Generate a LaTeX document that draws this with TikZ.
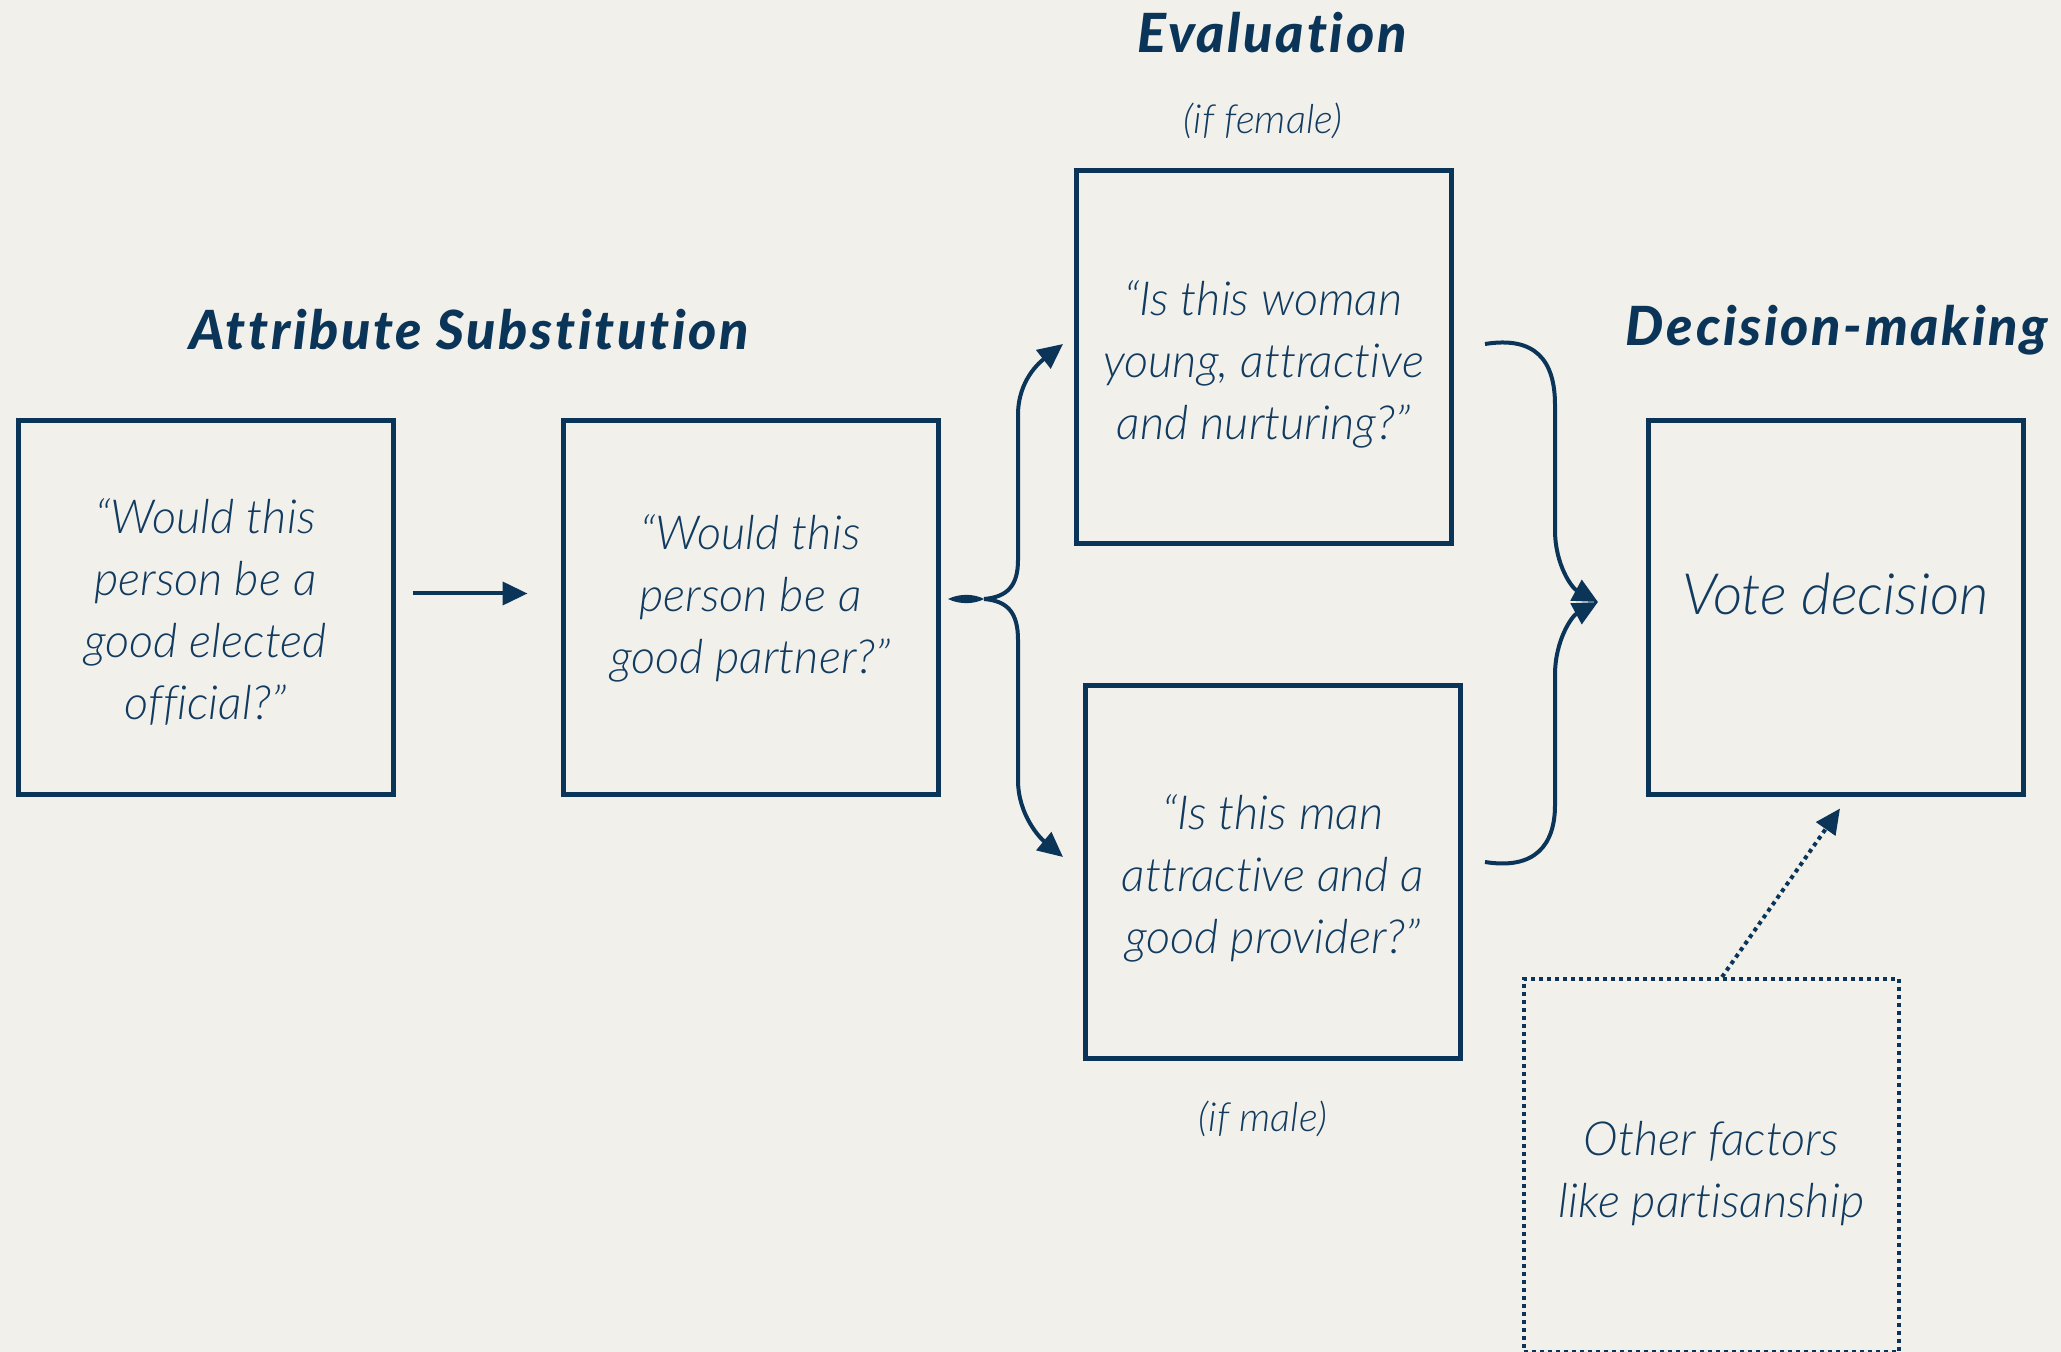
\documentclass[tikz,border=0pt]{standalone}
\usepackage{fontspec}
\setmainfont{Lato}
\newfontfamily\bodyfont{Lato Light}[Ligatures=NoCommon]
\newfontfamily\headfont{Lato Black}[LetterSpace=5,Ligatures=NoCommon]
\usetikzlibrary{arrows.meta}
\definecolor{navy}{HTML}{0B3558}
\definecolor{ink}{HTML}{123B60}
\definecolor{paper}{HTML}{F2F0EB}
\begin{document}
\begin{tikzpicture}[x=0.5pt,y=-0.5pt,
  box/.style={draw=navy, line width=2.5pt, minimum width=187.5pt, minimum height=186.5pt, inner sep=0pt},
  dotbox/.style={box, line width=2pt, dash pattern=on 2pt off 2pt},
  txt/.style={align=center, text=ink, inner sep=0pt, font=\bodyfont\itshape\fontsize{23.5}{31}\selectfont},
  head/.style={text=navy, font=\headfont\itshape\fontsize{27}{30}\selectfont, inner sep=0pt},
  note/.style={text=ink, font=\bodyfont\itshape\fontsize{20}{24}\selectfont, inner sep=0pt},
  conn/.style={draw=navy, line width=2pt, -{Triangle[length=12.5pt,width=11.5pt]}},
  dotconn/.style={conn, dash pattern=on 2pt off 2pt}]
\fill[paper] (0,0) rectangle (2061,1352);
\useasboundingbox (0,0) rectangle (2061,1352);

% headings
\node[head] (h1) at (469,330) {Attribute Substitution};
\node[head] (h2) at (1272,33) {Evaluation};
\node[head] (h3) at (1837,330) {Decision-making};
\node[note] (nf) at (1263,121) {(if female)};
\node[note] (nm) at (1263,1119) {(if male)};

% boxes
\node[box] (b1) at (205.5,607.5) {};
\node[box] (b2) at (750.5,607.5) {};
\node[box] (b3) at (1263.5,357.5) {};
\node[box] (b4) at (1273,871.5) {};
\node[box] (vote) at (1835.5,607.5) {};
\node[dotbox] (other) at (1711.5,1165.5) {};

% box texts
\node[txt] (b1t) at ([yshift=-2pt]b1.center) {“Would this\\person be a\\good elected\\official?”};
\node[txt] (b2t) at ([yshift=4.5pt]b2.center) {“Would this\\person be a\\good partner?”};
\node[txt] (b3t) at ([yshift=-3.5pt]b3.center) {“Is this woman\\young, attractive\\and nurturing?”};
\node[txt] (b4t) at ([yshift=-3.5pt]b4.center) {“Is this man\\attractive and a\\good provider?”};
\node[txt, font=\bodyfont\itshape\fontsize{28.5}{31}\selectfont] (votet) at ([yshift=7pt]vote.center) {Vote decision};
\node[txt] (othert) at ([yshift=-4pt]other.center) {Other factors\\like partisanship};

% straight arrow
\draw[conn] ([xshift=8.5pt,yshift=7pt]b1.east) -- ([xshift=-16.5pt,yshift=7pt]b2.west);

% left brace
\coordinate (nub) at (948,599);
\coordinate (lsplit) at (984,599);
\coordinate (t3) at (1063,344);
\coordinate (t4) at (1063,857);
\fill[navy] (nub) .. controls (960,593) and (975,594) .. (lsplit) .. controls (975,604) and (960,605) .. (nub);
\draw[conn] (lsplit) .. controls (1008,597) and (1018,585) .. (1018,560) -- (1018,415) .. controls (1018,380) and (1040,362) .. (t3);
\draw[conn] (lsplit) .. controls (1008,601) and (1018,613) .. (1018,640) -- (1018,780) .. controls (1018,815) and (1040,838) .. (t4);

% right brace
\coordinate (s3) at (1485,344);
\coordinate (s4) at (1485,862);
\coordinate (rtip) at (1598,602);
\draw[conn] (s3) .. controls (1535,336) and (1555,360) .. (1555,405) -- (1555,530) .. controls (1555,565) and (1572,588) .. (rtip);
\draw[conn] (s4) .. controls (1535,870) and (1555,845) .. (1555,805) -- (1555,675) .. controls (1555,640) and (1572,616) .. (rtip);

% dotted arrow
\draw[dotconn] ([xshift=5.25pt]other.north) -- ([xshift=2.25pt,yshift=-6pt]vote.south);
\end{tikzpicture}
\end{document}
